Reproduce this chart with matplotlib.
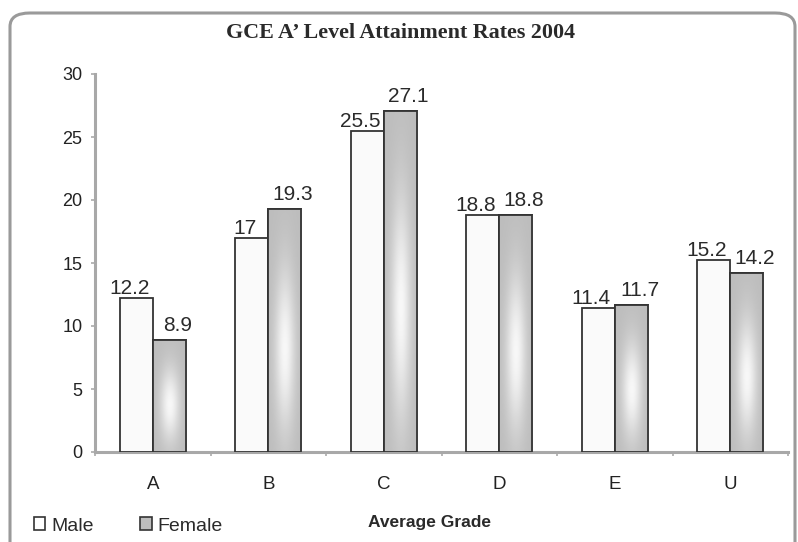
import numpy as np
import matplotlib.pyplot as plt
from matplotlib.patches import FancyBboxPatch, Rectangle

grades = ["A", "B", "C", "D", "E", "U"]
male = [12.2, 17, 25.5, 18.8, 11.4, 15.2]
female = [8.9, 19.3, 27.1, 18.8, 11.7, 14.2]

plt.rcParams["font.family"] = ["Liberation Sans", "DejaVu Sans"]

W, H = 798, 542
fig = plt.figure(figsize=(W / 100, H / 100), dpi=100)
ax = fig.add_axes([95 / W, 1 - 452 / H, (788 - 95) / W, (452 - 74) / H])

x = np.arange(len(grades))
bw = 0.286
edge = "#333333"

ax.bar(x - bw / 2, male, bw, color="#fafafa", edgecolor=edge, linewidth=1.3,
       label="Male", zorder=3)
fbars = ax.bar(x + bw / 2, female, bw, color="#c8c8c8", edgecolor=edge,
               linewidth=1.3, label="Female", zorder=3)

# shaded fill of the female bars: grey rim, pale centre
gx, gy = np.meshgrid(np.linspace(0, 1, 40), np.linspace(0, 1, 80))
shade = 0.74 + 0.23 * np.exp(-((gx - 0.5) / 0.3) ** 2 - ((gy - 0.42) / 0.33) ** 2)
for b in fbars:
    x0, w, h = b.get_x(), b.get_width(), b.get_height()
    im = ax.imshow(shade, cmap="gray", vmin=0, vmax=1, origin="lower",
                   extent=[x0, x0 + w, 0, h], aspect="auto",
                   interpolation="bicubic", zorder=3.5)
    im.set_clip_path(b)
    ax.add_patch(Rectangle((x0, 0), w, h, fill=False, edgecolor=edge,
                           linewidth=1.3, zorder=4))

for xi, v in zip(x, male):
    ax.annotate(f"{v:g}", (xi - bw / 2, v), xytext=(-5, 3),
                textcoords="offset points", ha="center", va="baseline",
                fontsize=15, color="#2a2a2a", zorder=5)
for xi, v in zip(x, female):
    ax.annotate(f"{v:g}", (xi + bw / 2, v), xytext=(6, 6.5),
                textcoords="offset points", ha="center", va="baseline",
                fontsize=15, color="#2a2a2a", zorder=5)

ax.set_xlim(-0.5, len(grades) - 0.5)
ax.set_ylim(0, 30)
ax.set_yticks(range(0, 31, 5))
ax.set_xticks(x)
ax.set_xticklabels(grades)
ax.set_xticks(np.arange(len(grades) + 1) - 0.5, minor=True)
ax.tick_params(axis="x", which="major", length=0, pad=17, labelsize=13.5,
               labelcolor="#222222")
ax.tick_params(axis="x", which="minor", length=3, width=1.2, color="#aaaaaa",
               direction="out")
ax.tick_params(axis="y", length=3, width=1.2, color="#aaaaaa", pad=6,
               labelsize=13, labelcolor="#222222")

for s in ["top", "right"]:
    ax.spines[s].set_visible(False)
for s in ["left", "bottom"]:
    ax.spines[s].set_color("#a8a8a8")
    ax.spines[s].set_linewidth(2.2)
ax.set_facecolor("none")

fig.text(400 / W, 1 - 33 / H, "GCE A\u2019 Level Attainment Rates 2004",
         ha="center", va="center", fontsize=15.8, fontweight="bold",
         family=["Liberation Serif", "DejaVu Serif"], color="#2a2a2a")
fig.text(430 / W, 1 - 522 / H, "Average Grade", ha="center", va="center",
         fontsize=12.5, fontweight="bold", color="#2a2a2a")

handles = [Rectangle((0, 0), 1, 1, facecolor="white", edgecolor="#333333", lw=1.2),
           Rectangle((0, 0), 1, 1, facecolor="#bdbdbd", edgecolor="#333333", lw=1.2)]
fig.legend(handles, ["Male", "Female"], loc="center left",
           bbox_to_anchor=(16 / W, 1 - 526 / H), ncol=2, frameon=False,
           fontsize=14, handlelength=0.6, handleheight=0.6,
           handletextpad=0.3, columnspacing=2.4, labelcolor="#2a2a2a")

frame = FancyBboxPatch((10 / W, -20 / H), 785 / W, (H - 13 + 20) / H,
                       boxstyle="round,pad=0,rounding_size=0.025",
                       transform=fig.transFigure, fill=False,
                       edgecolor="#9a9a9a", linewidth=2.2, zorder=0)
fig.patches.append(frame)

fig.savefig("out.png", dpi=100)
